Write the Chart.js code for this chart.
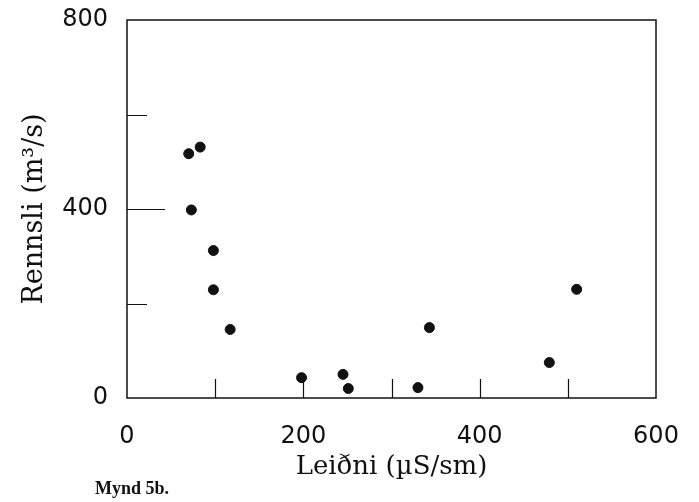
<!DOCTYPE html>
<html>
<head>
<meta charset="utf-8">
<script src="https://cdn.jsdelivr.net/npm/chart.js@4/dist/chart.umd.min.js"></script>
<style>
  html, body { margin: 0; padding: 0; background: #fff; }
  #wrap { width: 699px; height: 502px; position: relative; }
</style>
</head>
<body>
<div id="wrap"><canvas id="rennsliChart"></canvas></div>
<script>
// Leiðni (µS/sm) against rennsli (m3/s)
var leidni = [70, 83, 73, 98, 98, 117, 198, 245, 251, 330, 343, 479, 510];
var rennsli = [517, 531, 398, 312, 229, 145, 43, 50, 20, 22, 149, 75, 230];

var xLabelTicks = [0, 200, 400, 600];
var yLabelTicks = [0, 400, 800];
var xMarkTicks = [100, 200, 300, 400, 500];
var yMarkTicks = [200, 400, 600];

var points = leidni.map(function (x, i) {
  return { x: x, y: rennsli[i] };
});

// frame round the plot, inward tick marks and the figure caption
var framePlugin = {
  id: "frame",
  afterDatasetsDraw: function (chart) {
    var c = chart.ctx;
    var a = chart.chartArea;
    var xs = chart.scales.x;
    var ys = chart.scales.y;
    c.save();
    c.strokeStyle = "#111";
    c.lineWidth = 1.5;
    c.strokeRect(a.left, a.top, a.right - a.left, a.bottom - a.top);
    c.lineWidth = 1.2;
    c.beginPath();
    xMarkTicks.forEach(function (v) {
      var px = Math.round(xs.getPixelForValue(v)) + 0.5;
      c.moveTo(px, a.bottom);
      c.lineTo(px, a.bottom - 19);
    });
    yMarkTicks.forEach(function (v) {
      var py = Math.round(ys.getPixelForValue(v)) + 0.5;
      var len = v === 400 ? 38 : 20;
      c.moveTo(a.left, py);
      c.lineTo(a.left + len, py);
    });
    c.stroke();
    c.restore();
  },
  afterDraw: function (chart) {
    var c = chart.ctx;
    c.save();
    c.fillStyle = "#111";
    c.font = "bold 18px 'Liberation Serif'";
    c.textBaseline = "middle";
    c.fillText("Mynd 5b.", 95, 489);
    c.restore();
  },
};

var ctx = document.getElementById("rennsliChart").getContext("2d");
var rennsliChart = new Chart(ctx, {
  type: "scatter",
  data: {
    datasets: [
      {
        label: "Rennsli",
        data: points,
        pointRadius: 5,
        pointHoverRadius: 5,
        backgroundColor: "#111",
        borderColor: "#111",
      },
    ],
  },
  options: {
    responsive: true,
    maintainAspectRatio: false,
    animation: false,
    layout: {
      padding: { top: 20, right: 43, left: 0, bottom: 0 },
    },
    plugins: {
      legend: { display: false },
      tooltip: { enabled: false },
    },
    scales: {
      x: {
        type: "linear",
        min: 0,
        max: 600,
        afterFit: function (scale) {
          scale.height = 104;
          scale.paddingLeft = 0;
          scale.paddingRight = 0;
        },
        afterBuildTicks: function (scale) {
          scale.ticks = xLabelTicks.map(function (v) {
            return { value: v };
          });
        },
        grid: { display: false, drawTicks: false },
        border: { display: false },
        ticks: {
          padding: 24,
          color: "#111",
          font: { family: "DejaVu Sans", size: 24 },
          maxRotation: 0,
        },
        title: {
          display: true,
          text: "Leiðni (µS/sm)",
          color: "#111",
          font: { family: "DejaVu Serif", size: 26, lineHeight: 1 },
          padding: { top: 0, bottom: 22 },
        },
      },
      y: {
        type: "linear",
        min: 0,
        max: 800,
        afterFit: function (scale) {
          scale.width = 127;
          scale.paddingTop = 0;
          scale.paddingBottom = 0;
        },
        afterBuildTicks: function (scale) {
          scale.ticks = yLabelTicks.map(function (v) {
            return { value: v };
          });
        },
        grid: { display: false, drawTicks: false },
        border: { display: false },
        ticks: {
          padding: 19,
          color: "#111",
          font: { family: "DejaVu Sans", size: 24 },
        },
        title: {
          display: true,
          text: "Rennsli (m³/s)",
          color: "#111",
          font: { family: "DejaVu Serif", size: 27, lineHeight: 1 },
          padding: { top: 21, bottom: 0 },
        },
      },
    },
  },
  plugins: [framePlugin],
});
</script>
</body>
</html>
